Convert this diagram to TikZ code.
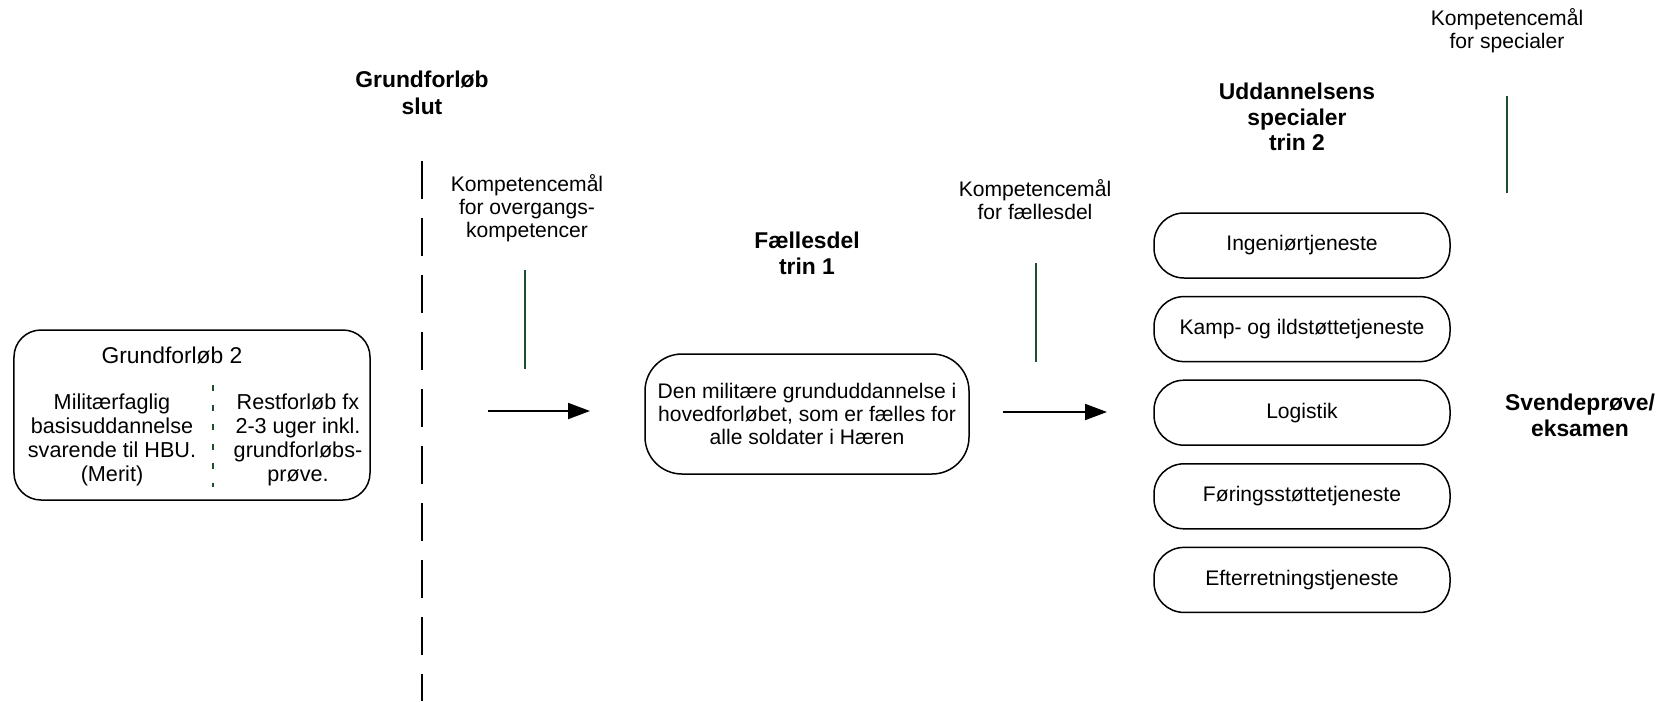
\documentclass[tikz,border=0pt]{standalone}
\usepackage{fontspec}
\setmainfont{Liberation Sans}
\usetikzlibrary{arrows.meta}
\definecolor{maalgreen}{RGB}{31,78,43}

\begin{document}
\begin{tikzpicture}[x=0.2mm,y=-0.2mm,
    txt/.style={inner sep=0pt,align=center,font=\fontsize{12}{13}\selectfont},
    titel/.style={inner sep=0pt,align=center,font=\fontsize{13}{14.6}\selectfont\bfseries},
    boks/.style={draw,line width=0.3mm,inner sep=0pt},
    maal/.style={draw=maalgreen,line width=0.3mm},
    pil/.style={line width=0.4mm,-{Triangle[length=4.4mm,width=3.2mm]}}]
    \useasboundingbox (0,0) rectangle (1664,701);
    % Grundforløb 2
    \node[boks,rounded corners=5.4mm,minimum width=71.2mm,minimum height=34mm] (gf2) at (192,415) {};
    \node[txt,font=\fontsize{13}{14}\selectfont] (gf2titel) at (172,355) {Grundforløb 2};
    \node[txt,font=\fontsize{12.3}{13.8}\selectfont] (merit) at (112,440) {Militærfaglig\\basisuddannelse\\svarende til HBU.\\(Merit)};
    \node[txt,font=\fontsize{12.3}{13.8}\selectfont] (rest) at (298,440) {Restforløb fx\\2-3 uger inkl.\\grundforløbs-\\prøve.};
    \coordinate (skel1) at (213,385);
    \coordinate (skel2) at (213,487);
    \draw[maal,dash pattern=on 1.2mm off 2.7mm] (skel1) -- (skel2);
    % Grundforløb slut
    \node[titel,font=\fontsize{13}{15.4}\selectfont\bfseries] (slut) at (422,93) {Grundforløb\\slut};
    \coordinate (slut1) at (422,161);
    \coordinate (slut2) at (422,701);
    \draw[line width=0.35mm,dash pattern=on 7.6mm off 3.8mm] (slut1) -- (slut2);
    % Overgang
    \node[txt] (komp1) at (527,208) {Kompetencemål\\for overgangs-\\kompetencer};
    \coordinate (g1a) at (525,270);
    \coordinate (g1b) at (525,369);
    \draw[maal] (g1a) -- (g1b);
    \coordinate (p1a) at (488,411);
    \coordinate (p1b) at (590,411);
    \draw[pil] (p1a) -- (p1b);
    % Fællesdel trin 1
    \node[titel] (faelles) at (807,253) {Fællesdel\\trin 1};
    \node[boks,rounded corners=7.4mm,minimum width=64.8mm,minimum height=24mm,txt] (grund) at (807,414)
        {Den militære grunduddannelse i\\hovedforløbet, som er fælles for\\alle soldater i Hæren};
    \node[txt] (komp2) at (1035,200) {Kompetencemål\\for fællesdel};
    \coordinate (g2a) at (1036,263);
    \coordinate (g2b) at (1036,362);
    \draw[maal] (g2a) -- (g2b);
    \coordinate (p2a) at (1003,412);
    \coordinate (p2b) at (1107,412);
    \draw[pil] (p2a) -- (p2b);
    % Specialer trin 2
    \node[titel] (special) at (1297,117) {Uddannelsens\\specialer\\trin 2};
    \foreach \navn/\tekst [count=\i from 0] in {ing/Ingeniørtjeneste,kamp/Kamp- og ildstøttetjeneste,log/Logistik,foer/Føringsstøttetjeneste,eft/Efterretningstjeneste}
        \node[boks,rounded corners=6mm,minimum width=59.2mm,minimum height=13mm,txt] (\navn) at (1302,245.5+83.6*\i) {\tekst};
    \node[txt] (komp3) at (1507,31) {Kompetencemål\\for specialer};
    \coordinate (g3a) at (1507,96);
    \coordinate (g3b) at (1507,193);
    \draw[maal] (g3a) -- (g3b);
    % Svendeprøve
    \node[titel] (svend) at (1580,415) {Svendeprøve/\\eksamen};
\end{tikzpicture}
\end{document}
